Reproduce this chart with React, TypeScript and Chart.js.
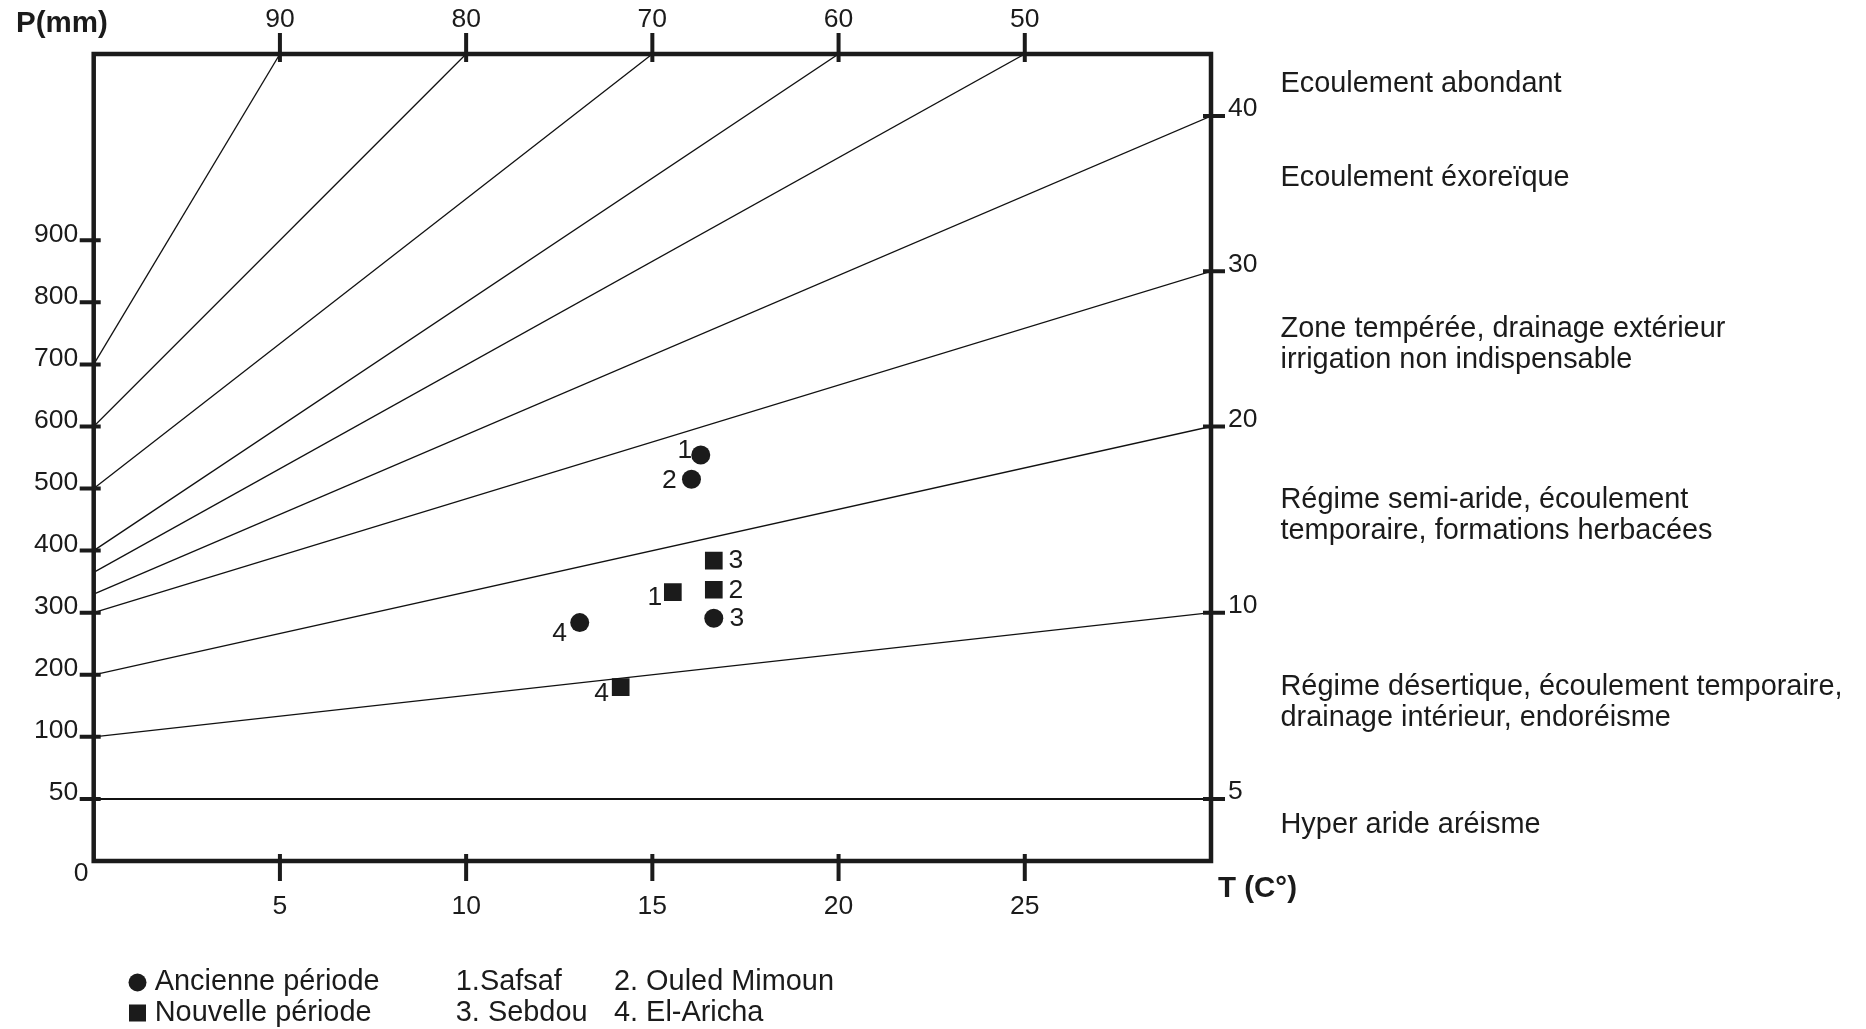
import React, { useEffect, useRef } from 'react';
import { Chart, registerables } from 'chart.js';

Chart.register(...registerables);

// ---------------- data ----------------
// De Martonne aridity index lines: index value, P at T=0, end point (T, P)
const indexValues = [5, 10, 20, 30, 40, 50, 60, 70, 80, 90];
const lineStartP = [50, 100, 200, 300, 330, 365, 400, 500, 600, 700];
const lineEndT = [30, 30, 30, 30, 30, 25, 20, 15, 10, 5];
const lineEndP = [50, 300, 600, 850, 1100, 1200, 1200, 1200, 1200, 1200];

const pTicks = [50, 100, 200, 300, 400, 500, 600, 700, 800, 900];
const tTicks = [5, 10, 15, 20, 25];
const tMax = 30;
const pMax = 1200;

const stationNumbers = ['1', '2', '3', '4'];
const ancienneT = [16.3, 16.05, 16.65, 13.05];
const ancienneP = [554, 515, 291, 284];
const nouvelleT = [15.55, 16.65, 16.65, 14.15];
const nouvelleP = [333, 337, 384, 180];

const periodNames = ['Ancienne période', 'Nouvelle période'];
const stationNames = ['1.Safsaf', '2. Ouled Mimoun', '3. Sebdou', '4. El-Aricha'];
const zoneTexts = [
  ['Ecoulement abondant'],
  ['Ecoulement éxoreïque'],
  ['Zone tempérée, drainage extérieur', 'irrigation non indispensable'],
  ['Régime semi-aride, écoulement', 'temporaire, formations herbacées'],
  ['Régime désertique, écoulement temporaire,', 'drainage intérieur, endoréisme'],
  ['Hyper aride aréisme'],
];
const yTitle = 'P(mm)';
const xTitle = 'T (C°)';
const originLabel = '0';

// piecewise precipitation axis: 0, 50, 100 then equal steps of 100 mm
const toPos = (p: number) => (p <= 100 ? p / 50 : 2 + (p - 100) / 100);

// ---------------- styles ----------------
const INK = '#1b1b1b';
const FONT = '"Liberation Sans", Arial, Helvetica, sans-serif';
const TICK_SIZE = 26.5;
const TEXT_SIZE = 28.9;
const zoneTextX = 1280.5;
const zoneTextY = [84, 178, 329.5, 500.5, 687.5, 825];
const zoneLineGap = 31;
const ancienneLabelOffsets = [[-16, -4], [-22, 1], [23, 0], [-20, 11]];
const nouvelleLabelOffsets = [[-18, 5], [22, 1], [22, 0], [-19, 7]];

const topIdx = indexValues
  .map((_, i) => i)
  .filter((i) => lineEndP[i] === pMax)
  .sort((a, b) => lineEndT[a] - lineEndT[b]);
const rightIdx = indexValues.map((_, i) => i).filter((i) => lineEndT[i] === tMax);

const decorPlugin = {
  id: 'decor',
  afterDatasetsDraw(chart: any) {
    const ctx = chart.ctx as CanvasRenderingContext2D;
    const { left, right, top, bottom } = chart.chartArea;
    const sx = chart.scales.x;
    const sx2 = chart.scales.x2;
    const sy = chart.scales.y;
    const sy2 = chart.scales.y2;
    ctx.save();
    // point labels
    ctx.fillStyle = INK;
    ctx.font = `${TICK_SIZE}px ${FONT}`;
    ctx.textAlign = 'center';
    ctx.textBaseline = 'middle';
    const offs = [ancienneLabelOffsets, nouvelleLabelOffsets];
    const n = chart.data.datasets.length;
    [n - 2, n - 1].forEach((di, k) => {
      const meta = chart.getDatasetMeta(di);
      meta.data.forEach((el: any, j: number) => {
        ctx.fillText(stationNumbers[j], el.x + offs[k][j][0], el.y + offs[k][j][1]);
      });
    });
    // frame
    ctx.strokeStyle = INK;
    ctx.lineWidth = 4.5;
    ctx.lineJoin = 'miter';
    ctx.strokeRect(left, top, right - left, bottom - top);
    // tick marks crossing the frame
    ctx.lineWidth = 4;
    ctx.lineCap = 'butt';
    ctx.beginPath();
    sx.ticks.forEach((t: any) => {
      const px = sx.getPixelForValue(t.value);
      ctx.moveTo(px, bottom - 7);
      ctx.lineTo(px, bottom + 20);
    });
    sx2.ticks.forEach((t: any) => {
      const px = sx2.getPixelForValue(t.value);
      ctx.moveTo(px, top + 8);
      ctx.lineTo(px, top - 21);
    });
    sy.ticks.forEach((t: any) => {
      const py = sy.getPixelForValue(t.value);
      ctx.moveTo(left - 14, py);
      ctx.lineTo(left + 7, py);
    });
    sy2.ticks.forEach((t: any) => {
      const py = sy2.getPixelForValue(t.value);
      ctx.moveTo(right - 8, py);
      ctx.lineTo(right + 14, py);
    });
    ctx.stroke();
    ctx.restore();
  },
  afterDraw(chart: any) {
    const ctx = chart.ctx as CanvasRenderingContext2D;
    const { left, bottom } = chart.chartArea;
    ctx.save();
    ctx.fillStyle = INK;
    ctx.textBaseline = 'middle';
    // origin label
    ctx.font = `${TICK_SIZE}px ${FONT}`;
    ctx.textAlign = 'center';
    ctx.fillText(originLabel, left - 12.5, bottom + 13);
    // axis titles
    ctx.font = `bold 29.5px ${FONT}`;
    ctx.textAlign = 'left';
    ctx.fillText(yTitle, 16, 24);
    ctx.fillText(xTitle, 1218, 889);
    // zone descriptions
    ctx.font = `${TEXT_SIZE}px ${FONT}`;
    zoneTexts.forEach((lines, i) => {
      lines.forEach((line, j) => {
        ctx.fillText(line, zoneTextX, zoneTextY[i] + j * zoneLineGap);
      });
    });
    // legend
    const legY = [982.5, 1013];
    ctx.beginPath();
    ctx.arc(137.5, legY[0], 9, 0, Math.PI * 2);
    ctx.fill();
    ctx.fillRect(129, legY[1] - 8.5, 17, 17);
    ctx.fillText(periodNames[0], 154.7, legY[0]);
    ctx.fillText(periodNames[1], 154.7, legY[1]);
    ctx.fillText(stationNames[0], 455.8, legY[0]);
    ctx.fillText(stationNames[1], 614, legY[0]);
    ctx.fillText(stationNames[2], 455.8, legY[1]);
    ctx.fillText(stationNames[3], 614, legY[1]);
    ctx.restore();
  },
};

const tickFont = { family: FONT, size: TICK_SIZE };

export default function App() {
  const ref = useRef<HTMLCanvasElement>(null);
  useEffect(() => {
    if (!ref.current) return;
    const datasets: any[] = indexValues.map((iv, i) => ({
      label: `I = ${iv}`,
      data: [
        { x: 0, y: toPos(lineStartP[i]) },
        { x: lineEndT[i], y: toPos(lineEndP[i]) },
      ],
      showLine: true,
      pointRadius: 0,
      borderColor: '#111',
      borderWidth: iv === 5 ? 2 : 1.3,
      fill: false,
    }));
    datasets.push({
      label: periodNames[0],
      data: ancienneT.map((t, i) => ({ x: t, y: toPos(ancienneP[i]) })),
      pointStyle: 'circle',
      pointRadius: 9.5,
      backgroundColor: INK,
      borderColor: INK,
      borderWidth: 0,
      showLine: false,
    });
    datasets.push({
      label: periodNames[1],
      data: nouvelleT.map((t, i) => ({ x: t, y: toPos(nouvelleP[i]) })),
      pointStyle: 'rect',
      pointRadius: 12.5,
      backgroundColor: INK,
      borderColor: INK,
      borderWidth: 0,
      showLine: false,
    });

    const common = {
      type: 'linear',
      display: true,
      bounds: 'data',
      grid: { display: false, drawTicks: false, tickLength: 0 },
      border: { display: false },
    };

    const chart = new Chart(ref.current, {
      type: 'scatter',
      data: { datasets },
      options: {
        responsive: false,
        animation: false,
        devicePixelRatio: 1,
        events: [],
        layout: { padding: 0 },
        plugins: { legend: { display: false }, tooltip: { enabled: false }, title: { display: false } },
        scales: {
          x: {
            ...common,
            position: 'bottom',
            min: 0,
            max: tMax,
            afterBuildTicks: (s: any) => {
              s.ticks = tTicks.map((v) => ({ value: v }));
            },
            afterFit: (s: any) => {
              s.height = 168;
            },
            ticks: {
              autoSkip: false,
              maxRotation: 0,
              padding: 30,
              color: INK,
              font: tickFont,
              callback: (v: any) => String(v),
            },
          },
          x2: {
            ...common,
            position: 'top',
            min: 0,
            max: tMax,
            afterBuildTicks: (s: any) => {
              s.ticks = topIdx.map((i) => ({ value: lineEndT[i] }));
            },
            afterFit: (s: any) => {
              s.height = 54;
            },
            ticks: {
              autoSkip: false,
              maxRotation: 0,
              padding: 18.5,
              color: INK,
              font: tickFont,
              callback: (_v: any, idx: number) => String(indexValues[topIdx[idx]]),
            },
          },
          y: {
            ...common,
            position: 'left',
            min: 0,
            max: toPos(pMax),
            afterBuildTicks: (s: any) => {
              s.ticks = pTicks.map((p) => ({ value: toPos(p) }));
            },
            afterFit: (s: any) => {
              s.width = 93.7;
            },
            ticks: {
              autoSkip: false,
              padding: 15.5,
              labelOffset: -6,
              color: INK,
              font: tickFont,
              callback: (_v: any, idx: number) => String(pTicks[idx]),
            },
          },
          y2: {
            ...common,
            position: 'right',
            min: 0,
            max: toPos(pMax),
            afterBuildTicks: (s: any) => {
              s.ticks = rightIdx.map((i) => ({ value: toPos(lineEndP[i]) }));
            },
            afterFit: (s: any) => {
              s.width = 1866 - 1211;
            },
            ticks: {
              autoSkip: false,
              padding: 17,
              labelOffset: -7,
              color: INK,
              font: tickFont,
              callback: (_v: any, idx: number) => String(indexValues[rightIdx[idx]]),
            },
          },
        },
      } as any,
      plugins: [decorPlugin],
    } as any);
    return () => chart.destroy();
  }, []);

  return (
    <div style={{ position: 'fixed', left: 0, top: 0, width: 1866, height: 1029, background: '#fff' }}>
      <canvas ref={ref} width={1866} height={1029} style={{ display: 'block', width: 1866, height: 1029 }} />
    </div>
  );
}
